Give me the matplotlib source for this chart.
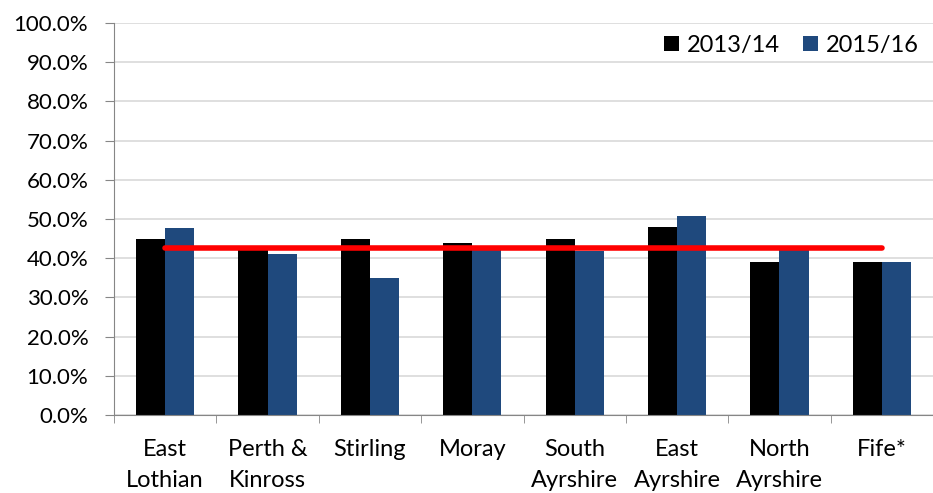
import numpy as np
import matplotlib.pyplot as plt

# Council areas and the two survey years
areas = ['East\nLothian', 'Perth &\nKinross', 'Stirling', 'Moray',
         'South\nAyrshire', 'East\nAyrshire', 'North\nAyrshire', 'Fife*']
y2013 = [45.0, 42.6, 45.0, 44.0, 45.0, 48.0, 39.0, 39.0]
y2015 = [47.8, 41.0, 35.0, 42.0, 41.8, 50.7, 42.0, 39.0]
average = 42.7
series_names = ['2013/14', '2015/16']

plt.rcParams['font.family'] = ['Lato', 'DejaVu Sans']

fig = plt.figure(figsize=(9.33, 4.93), dpi=100)
# left spine at x=114px, plot bottom at y=415px, top at 23px
ax = fig.add_axes([114/933, 1 - 415/493, (933 - 114)/933, 392/493])

x = np.arange(len(areas))
w = 0.285
ax.bar(x - w/2, y2013, w, color='black', label=series_names[0], zorder=2)
ax.bar(x + w/2, y2015, w, color='#1f497d', label=series_names[1], zorder=2)
ax.plot([x[0], x[-1]], [average, average], color='#ff0000', lw=4,
        solid_capstyle='round', zorder=3)

ax.set_ylim(0, 100)
ax.set_xlim(-0.5, 7.5 - (943.6 - 933)/103.7)
ax.set_yticks(np.arange(0, 101, 10))
ax.set_yticklabels(['%.1f%%' % v for v in np.arange(0, 101, 10)], fontsize=16)
ax.grid(axis='y', color='#d9d9d9', lw=1.2, zorder=0)

ax.set_xticks(x)
ax.set_xticklabels(areas, fontsize=17, linespacing=1.6)
ax.set_xticks(np.arange(-0.5, 8, 1), minor=True)
ax.tick_params(axis='x', which='major', length=0, pad=17)
ax.tick_params(axis='x', which='minor', length=6, color='#868686')
ax.tick_params(axis='y', length=6.5, color='#868686', pad=12)

for s in ['top', 'right']:
    ax.spines[s].set_visible(False)
for s in ['left', 'bottom']:
    ax.spines[s].set_color('#868686')

ax.legend(loc='upper right', bbox_to_anchor=(1.0, 1.005), ncol=2, frameon=False,
          fontsize=17, handlelength=0.6, handleheight=0.6, handletextpad=0.35,
          columnspacing=1.0, borderaxespad=0.2)

fig.savefig('out.png', dpi=100)
